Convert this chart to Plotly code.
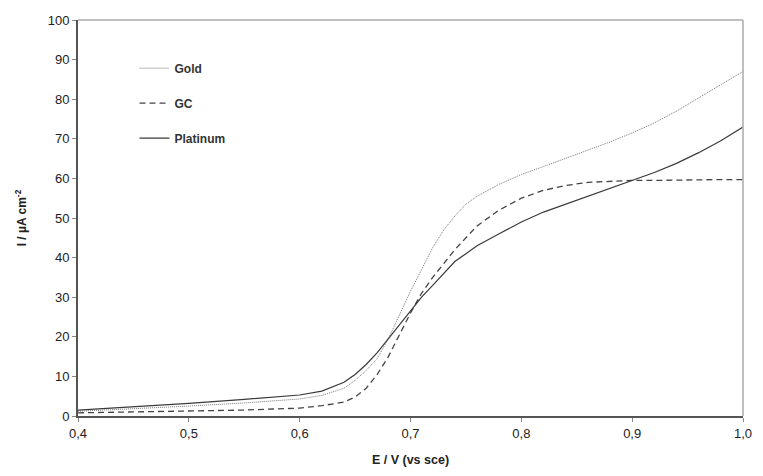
import plotly.graph_objects as go

E = [0.40, 0.45, 0.50, 0.55, 0.60, 0.62, 0.64, 0.65, 0.66, 0.67, 0.68, 0.69, 0.70,
     0.71, 0.72, 0.73, 0.74, 0.75, 0.76, 0.78, 0.80, 0.82, 0.84, 0.86, 0.88, 0.90,
     0.92, 0.94, 0.96, 0.98, 1.00]

gold = [1.2, 1.8, 2.5, 3.3, 4.3, 5.2, 7.0, 9.0, 11.5, 14.5, 19.5, 25.5, 31.5,
        37.0, 42.5, 47.0, 50.5, 53.5, 55.5, 58.5, 61.0, 63.0, 65.0, 67.0, 69.2, 71.5,
        74.0, 77.0, 80.3, 83.5, 87.0]

gc = [0.8, 1.0, 1.2, 1.5, 2.0, 2.6, 3.5, 4.8, 7.0, 10.5, 15.0, 20.5, 26.0,
      31.0, 35.0, 38.5, 42.0, 45.0, 48.0, 52.0, 55.0, 57.0, 58.2, 59.0, 59.3, 59.5,
      59.5, 59.6, 59.6, 59.7, 59.7]

platinum = [1.5, 2.3, 3.2, 4.2, 5.3, 6.3, 8.5, 10.5, 13.0, 16.0, 19.5, 23.0, 26.5,
            30.0, 33.0, 36.0, 39.0, 41.0, 43.0, 46.0, 49.0, 51.5, 53.5, 55.5, 57.5, 59.5,
            61.5, 63.8, 66.5, 69.5, 73.0]

x_ticks = [0.4, 0.5, 0.6, 0.7, 0.8, 0.9, 1.0]
y_ticks = list(range(0, 101, 10))

FONT = "Liberation Sans"

fig = go.Figure()
fig.add_trace(go.Scatter(x=E, y=gold, mode="lines", name="<b>Gold</b>", legendgroup="a",
                         line=dict(color="#777777", width=1, dash="1px,1px")))
fig.add_trace(go.Scatter(x=E, y=gc, mode="lines", name="<b>GC</b>", legendgroup="b",
                         line=dict(color="#444444", width=1.3, dash="6px,4px")))
fig.add_trace(go.Scatter(x=E, y=platinum, mode="lines", name="<b>Platinum</b>", legendgroup="c",
                         line=dict(color="#3a3a3a", width=1.2)))

# light top/right frame
fig.add_shape(type="line", xref="paper", yref="paper", x0=0, x1=1, y0=1, y1=1,
              line=dict(color="#aaaaaa", width=1.5))
fig.add_shape(type="line", xref="paper", yref="paper", x0=1, x1=1, y0=0, y1=1,
              line=dict(color="#aaaaaa", width=1.5))

fig.update_layout(
    width=763, height=476,
    margin=dict(l=78, r=11, t=20, b=56),
    paper_bgcolor="white", plot_bgcolor="white",
    separators=",.",
    font=dict(family=FONT, size=12, color="#222222"),
    showlegend=True,
    legend=dict(x=0.085, y=0.915, xanchor="left", yanchor="top",
                bgcolor="rgba(0,0,0,0)", tracegroupgap=16, itemwidth=30,
                font=dict(family=FONT, size=12, color="#333333")),
    xaxis=dict(range=[0.4, 1.0], tickvals=x_ticks, tickformat=".1f",
               showgrid=False, zeroline=False, showline=True, linecolor="#555555",
               linewidth=2, ticks="outside", ticklen=4, tickcolor="#888888",
               tickfont=dict(family=FONT, size=13, color="#222222"),
               title=dict(text="<b>E / V (vs sce)</b>", standoff=16,
                          font=dict(family=FONT, size=12.5, color="#222222"))),
    yaxis=dict(range=[0, 100], tickvals=y_ticks, showgrid=False, zeroline=False,
               showline=True, linecolor="#555555", linewidth=2, ticks="outside",
               ticklen=4, tickcolor="#888888",
               tickfont=dict(family=FONT, size=13, color="#222222"),
               title=dict(text="<b>I / µA cm<sup>-2</sup></b>", standoff=18,
                          font=dict(family=FONT, size=12, color="#222222"))),
)
fig.update_xaxes(tickprefix="<b>", ticksuffix="</b>")
fig.update_yaxes(tickprefix="<b>", ticksuffix="</b>")

fig.write_html("out.html")
